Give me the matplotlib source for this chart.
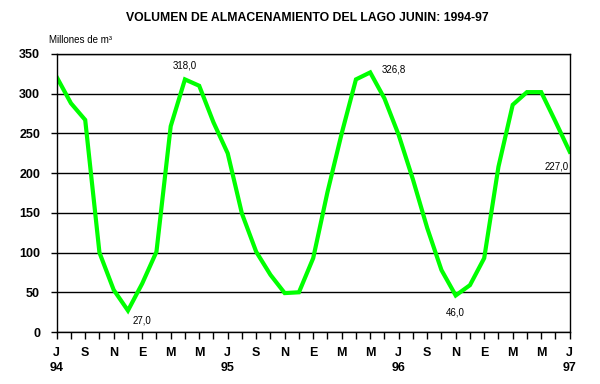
import matplotlib.pyplot as plt
import matplotlib.transforms as mtransforms

plt.rcParams['font.family'] = ['Liberation Sans', 'DejaVu Sans']

# volumen mensual jul-1994 .. jul-1997 (millones de m3)
volumen = [321, 288, 267, 100, 53, 27, 61, 101, 259, 318, 310, 264,
           225, 149, 101, 72, 49, 50, 93, 176, 250, 318, 326.8, 294,
           248, 192, 131, 78, 46, 59, 93, 208, 286, 302, 302, 265,
           227]
meses = ['J', 'S', 'N', 'E', 'M', 'M'] * 3 + ['J']
anios = ['94', '95', '96', '97']

# etiquetas de valores: (indice, texto, dx, dy, ha)
etiquetas = [(9, '318,0', 0, 10, 'center'),
             (5, '27,0', 3, -7, 'left'),
             (22, '326,8', 8, 2, 'left'),
             (28, '46,0', 0, -12, 'center'),
             (36, '227,0', -1, -11, 'right')]

x = list(range(len(volumen)))

fig = plt.figure(figsize=(6, 3.84), dpi=100)
ax = fig.add_axes([0.0945, 0.1354, 0.855, 0.724])

ax.plot(x, volumen, color='#00ff00', linewidth=3, solid_joinstyle='miter')

ax.set_xlim(0, 36)
ax.set_ylim(0, 350)
ax.set_yticks(range(0, 351, 50))
ax.yaxis.grid(True, color='black', linewidth=1)
ax.set_axisbelow(True)
for s in ax.spines.values():
    s.set_linewidth(1)

ax.set_xticks(x)
ax.set_xticklabels([meses[i // 2] if i % 2 == 0 else '' for i in x])
ax.tick_params(axis='x', length=5, width=1, pad=6, labelsize=9)
ax.tick_params(axis='y', length=4, width=1, pad=8, labelsize=9)
for lab in ax.get_xticklabels() + ax.get_yticklabels():
    lab.set_fontweight('bold')

trans = mtransforms.blended_transform_factory(ax.transData, ax.transAxes)
for k, a in enumerate(anios):
    ax.text(k * 12, -0.13, a, transform=trans, ha='center', va='center',
            fontsize=9, fontweight='bold')

for i, t, dx, dy, ha in etiquetas:
    ax.annotate(t, (x[i], volumen[i]), xytext=(dx, dy), textcoords='offset points',
                ha=ha, va='center', fontsize=7)

fig.text(0.513, 0.953, 'VOLUMEN DE ALMACENAMIENTO DEL LAGO JUNIN: 1994-97',
         ha='center', va='center', fontsize=8.8, fontweight='bold')
fig.text(0.082, 0.895, 'Millones de m³', ha='left', va='center', fontsize=7)

fig.savefig('out.png', dpi=100)
